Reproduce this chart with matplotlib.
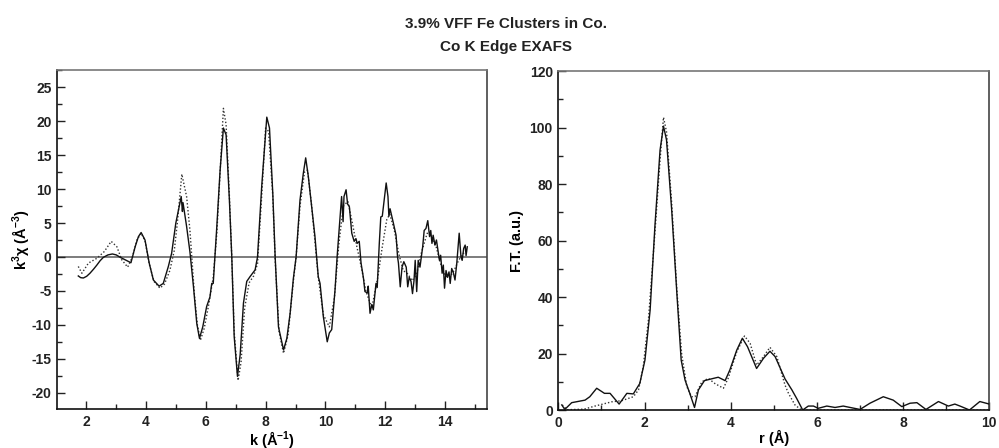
import numpy as np
import matplotlib
matplotlib.use("Agg")
import matplotlib.pyplot as plt
from matplotlib.ticker import MultipleLocator

plt.rcParams['font.family'] = ['Liberation Sans', 'DejaVu Sans']
plt.rcParams['font.weight'] = 'bold'
plt.rcParams['mathtext.fontset'] = 'custom'
plt.rcParams['mathtext.rm'] = 'Liberation Sans:bold'
plt.rcParams['mathtext.it'] = 'Liberation Sans:bold'
plt.rcParams['mathtext.bf'] = 'Liberation Sans:bold'
plt.rcParams['mathtext.default'] = 'regular'
plt.rcParams['axes.unicode_minus'] = False

# k-space EXAFS, measured (solid)
k_data = [1.74, 1.82, 1.91, 2.02, 2.13, 2.25, 2.36, 2.47, 2.58, 2.73, 2.88, 3.01,
          3.14, 3.25, 3.36, 3.50, 3.64, 3.75, 3.84, 3.97,
          4.11, 4.25, 4.44, 4.58, 4.75, 4.86, 5.00, 5.18, 5.22, 5.24, 5.36, 5.47,
          5.59, 5.70, 5.79, 5.90, 6.03, 6.14, 6.20, 6.25, 6.37, 6.48, 6.59, 6.68,
          6.79, 6.87, 6.95, 7.06, 7.15, 7.26, 7.37, 7.48, 7.65, 7.73, 7.87, 8.04,
          8.13, 8.24, 8.32, 8.43, 8.60, 8.71, 8.82, 8.93, 9.02, 9.15, 9.26, 9.34,
          9.43, 9.54, 9.65, 9.76, 9.82, 9.93, 10.06, 10.13, 10.21, 10.32, 10.39,
          10.48, 10.54, 10.59, 10.62, 10.69, 10.74, 10.80, 10.88, 10.96, 11.02,
          11.06, 11.13, 11.19, 11.27, 11.32, 11.40, 11.43, 11.49, 11.55, 11.60,
          11.69, 11.73, 11.80, 11.85, 11.90, 12.03, 12.09, 12.12, 12.16, 12.27,
          12.36, 12.41, 12.44, 12.50, 12.56, 12.62, 12.70, 12.75, 12.80, 12.86,
          12.91, 12.96, 13.00, 13.05, 13.10, 13.16, 13.25, 13.30, 13.36, 13.42,
          13.48, 13.52, 13.56, 13.60, 13.66, 13.71, 13.81, 13.85, 13.90, 13.94,
          13.98, 14.03, 14.08, 14.13, 14.17, 14.22, 14.28, 14.33, 14.39, 14.47,
          14.53, 14.57, 14.62, 14.67, 14.70, 14.74]
chi_data = [-2.8, -3.05, -3.1, -2.85, -2.4, -1.8, -1.2, -0.55, -0.05, 0.3, 0.44, 0.3,
            -0.05, -0.3, -0.55, -0.85, 1.5, 3.0, 3.6, 2.5,
            -0.9, -3.4, -4.3, -3.9, -1.4, 0.55, 5.0, 8.9, 6.7, 8.0, 4.5, 0.8,
            -4.4, -9.8, -12.0, -10.3, -7.3, -5.9, -3.9, -3.9, 4.5, 12.8, 19.0, 18.0,
            8.4, 0.0, -11.7, -17.6, -14.4, -6.8, -3.6, -2.9, -1.9, 0.0, 10.4, 20.6,
            19.0, 9.4, 0.0, -10.3, -13.7, -12.0, -8.3, -3.1, 0.0, 8.4, 12.3, 14.6,
            11.8, 7.4, 3.0, -2.9, -3.9, -8.8, -12.5, -11.2, -10.7, -4.9, 0.0,
            5.4, 8.9, 5.2, 8.9, 9.9, 7.8, 7.4, 3.5, 2.3, 2.7,
            2.0, 2.3, -0.9, -3.1, -5.1, -5.3, -4.3, -8.3, -7.0, -7.8,
            -3.9, -4.5, 2.0, 5.9, 6.0, 10.9, 8.9, 6.0, 7.1, 5.0,
            3.2, 0.0, -0.9, -4.4, -1.5, -0.7, -1.5, -4.4, -3.0, -3.6,
            -5.4, -3.5, -0.5, -5.1, -0.5, -1.5, 1.5, 3.9, 4.2, 5.35,
            3.0, 3.9, 2.0, 3.2, 1.75, 2.5, -0.5, 0.25, -2.4, -1.2,
            -4.6, -2.0, -3.0, -2.2, -3.9, -1.7, -2.4, -3.4, -0.9, 3.5,
            0.0, -0.5, 1.25, 1.75, 0.2, 1.5]

# k-space fit (dotted)
k_fit = [1.74, 1.86, 2.08, 2.36, 2.61, 2.84, 3.03, 3.19, 3.39, 3.55, 3.70, 3.84,
         3.97, 4.11, 4.27, 4.47, 4.62, 4.80, 4.95, 5.05, 5.20, 5.36, 5.47, 5.62,
         5.72, 5.82, 5.95, 6.10, 6.25, 6.37, 6.48, 6.59, 6.68, 6.79, 6.87, 6.95,
         7.08, 7.18, 7.30, 7.45, 7.60, 7.73, 7.87, 8.00, 8.10, 8.24, 8.32, 8.45,
         8.60, 8.75, 8.93, 9.02, 9.15, 9.30, 9.40, 9.54, 9.76, 9.93, 10.13, 10.30,
         10.45, 10.60, 10.75, 10.90, 11.05, 11.20, 11.35, 11.55, 11.75, 11.90,
         12.05, 12.15, 12.30, 12.45, 12.60, 12.75, 12.90, 13.05, 13.20, 13.40,
         13.55, 13.70, 13.85, 14.00, 14.15, 14.30, 14.45, 14.60, 14.74]
chi_fit = [-1.4, -2.4, -0.9, -0.2, 0.8, 2.3, 1.5, -0.4, -1.5, 0.0, 2.5, 3.5,
           2.4, -1.0, -3.6, -4.6, -4.0, -2.0, 1.0, 5.0, 12.2, 8.9, 4.0, -5.5,
           -10.0, -12.3, -10.5, -7.0, -3.0, 3.5, 12.5, 21.9, 19.5, 9.0, 0.0, -11.0,
           -18.2, -15.5, -7.5, -3.8, -2.8, -1.0, 9.0, 19.0, 18.5, 9.0, -0.5, -11.0,
           -14.2, -11.5, -3.5, 0.0, 7.5, 12.5, 12.8, 7.5, -3.0, -8.5, -10.3, -6.0,
           2.0, 7.5, 8.2, 5.0, 1.5, -1.5, -5.0, -7.5, -3.0, 1.5,
           5.5, 6.3, 4.0, 0.5, -2.0, -2.5, -3.5, -2.5, 0.5, 3.5,
           3.0, 1.5, -1.0, -2.8, -3.0, -2.0, -0.5, 0.5, 1.0]

# Fourier transform, measured (solid)
r_data = [0.08, 0.15, 0.31, 0.62, 0.73, 0.89, 1.07, 1.20, 1.41, 1.59, 1.74, 1.89,
          2.01, 2.13, 2.24, 2.36, 2.44, 2.51, 2.63, 2.75, 2.85, 2.94, 3.05, 3.16,
          3.25, 3.39, 3.60, 3.71, 3.87, 3.98, 4.14, 4.27, 4.39, 4.60, 4.76, 4.91,
          5.03, 5.26, 5.42, 5.53, 5.67, 5.80, 5.92, 6.03, 6.23, 6.42, 6.61, 6.77,
          7.00, 7.23, 7.54, 7.77, 7.97, 8.16, 8.32, 8.53, 8.82, 9.05, 9.20, 9.32,
          9.54, 9.78, 10.0]
ft_data = [1.8, 0.2, 2.6, 3.5, 4.7, 7.7, 5.9, 5.9, 2.1, 5.9, 5.7, 9.4,
           17.7, 35.4, 64.9, 92.0, 100.5, 95.6, 70.8, 41.3, 17.7, 10.6, 5.9, 0.9,
           7.1, 10.4, 11.2, 11.6, 10.4, 14.2, 21.2, 25.4, 22.4, 14.7, 18.3, 20.8,
           18.9, 11.0, 7.1, 4.1, 0.0, 1.4, 1.4, 0.6, 1.4, 0.9, 1.4, 0.9,
           0.2, 2.4, 4.7, 3.5, 1.2, 2.4, 2.6, 0.2, 3.0, 1.4, 2.1, 1.4,
           0.0, 3.0, 2.1]

# Fourier transform, fit (dotted)
r_fit = [0.09, 0.20, 0.60, 0.85, 1.24, 1.47, 1.74, 1.86, 1.97, 2.09, 2.24, 2.36,
         2.44, 2.51, 2.63, 2.75, 2.86, 2.98, 3.09, 3.17, 3.33, 3.48, 3.63, 3.83,
         3.94, 4.14, 4.32, 4.45, 4.60, 4.76, 4.91, 5.07, 5.18, 5.26, 5.34, 5.49,
         5.64, 10.0]
ft_fit = [1.8, 0.1, 0.3, 1.4, 2.9, 3.3, 4.7, 7.1, 15.3, 31.9, 62.5, 88.5,
          103.6, 98.5, 73.2, 42.5, 20.0, 8.3, 4.7, 4.7, 10.0, 11.2, 9.4, 7.7,
          11.2, 20.6, 26.2, 23.6, 15.9, 18.9, 22.2, 18.9, 13.0, 8.8, 5.9, 1.8,
          0.0, 0.0]

fig = plt.figure(figsize=(9.99, 4.48), dpi=100)
ax1 = fig.add_axes([0.0571, 0.0871, 0.4304, 0.7567])
ax2 = fig.add_axes([0.5589, 0.0848, 0.4314, 0.7567])

fig.text(0.507, 0.947, '3.9% VFF Fe Clusters in Co.', ha='center', va='center',
         fontsize=11, fontweight='bold', color='#222222')
fig.text(0.507, 0.896, 'Co K Edge EXAFS', ha='center', va='center',
         fontsize=11, fontweight='bold', color='#222222')

ax1.axhline(0, color='#666666', lw=1.2, zorder=1)
ax1.plot(k_data, chi_data, color='#111111', lw=1.0, zorder=3)
ax1.plot(k_fit, chi_fit, color='#333333', lw=1.0, ls=(0, (1, 1.5)), zorder=2)
ax1.set_xlim(1.03, 15.4)
ax1.set_ylim(-22.4, 27.55)
ax1.xaxis.set_major_locator(MultipleLocator(2))
ax1.xaxis.set_minor_locator(MultipleLocator(1))
ax1.yaxis.set_major_locator(MultipleLocator(5))
ax1.yaxis.set_minor_locator(MultipleLocator(2.5))
ax1.set_xticks([2, 4, 6, 8, 10, 12, 14])
ax1.set_xlabel('k (Å$^{-1}$)', fontsize=10.5, fontweight='bold', labelpad=0)
ax1.set_ylabel('k$^3$χ (Å$^{-3}$)', fontsize=10.5, fontweight='bold', labelpad=0)

ax2.plot(r_data, ft_data, color='#111111', lw=1.0, zorder=3)
ax2.plot(r_fit, ft_fit, color='#333333', lw=1.0, ls=(0, (1, 1.5)), zorder=2)
ax2.set_xlim(0, 10)
ax2.set_ylim(0, 120)
ax2.xaxis.set_major_locator(MultipleLocator(2))
ax2.xaxis.set_minor_locator(MultipleLocator(1))
ax2.yaxis.set_major_locator(MultipleLocator(20))
ax2.yaxis.set_minor_locator(MultipleLocator(10))
ax2.set_xlabel('r (Å)', fontsize=10.5, fontweight='bold', labelpad=0)
ax2.set_ylabel('F.T. (a.u.)', fontsize=10.5, fontweight='bold', labelpad=4)

for ax in (ax1, ax2):
    ax.tick_params(which='major', direction='in', length=5.5, width=1)
    ax.tick_params(which='minor', direction='in', length=3.5, width=1)
    ax.tick_params(which='both', top=False, right=False, labelsize=10,
                   pad=4, colors='#222222')
    for lab in ax.get_xticklabels() + ax.get_yticklabels():
        lab.set_fontweight('bold')
    ax.spines['left'].set_color('#111111')
    ax.spines['bottom'].set_color('#111111')
    ax.spines['top'].set_color('#777777')
    ax.spines['right'].set_color('#444444')
    for s in ax.spines.values():
        s.set_linewidth(1.2)

fig.savefig('out.png', dpi=100)
